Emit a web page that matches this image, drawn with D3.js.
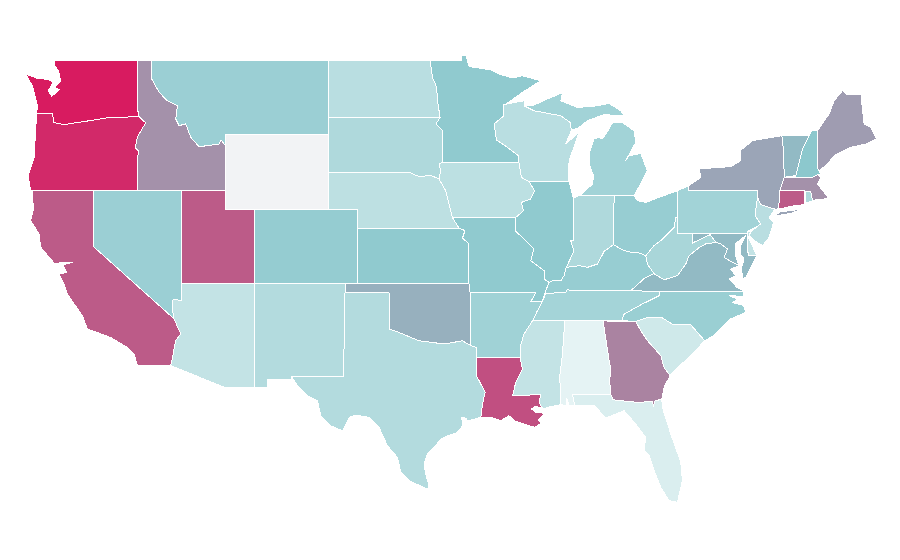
<!DOCTYPE html>
<html>
<head>
<meta charset="utf-8">
<script src="https://cdn.jsdelivr.net/npm/d3@7"></script>
<style>
  html, body { margin: 0; padding: 0; background: #fff; }
  .state { stroke: #fff; stroke-width: 1; stroke-linejoin: round; shape-rendering: crispEdges; }
</style>
</head>
<body>
<div id="map"></div>
<script>
// value per state
const stateNames = ['WA','OR','CA','ID','NV','MT','WY','UT','AZ','CO','NM','ND','SD','NE','KS','OK','TX','MN','IA','MO','AR','LA','WI','IL','MI','IN','OH','KY','TN','MS','AL','GA','FL','SC','NC','VA','WV','MD','DE','PA','NJ','NY','CT','RI','MA','VT','NH','ME'];
const stateValues = [100,96,81.5,66,42.6,42.6,0,81.5,23,45.6,31,28,33,26,48,57,31,48,26.5,48,40,85,28,48,39,33,44.6,44.6,38,23,6.4,70,12,17,43,54,36,54,23,39,28,60,81.5,33,66,54,50,62.7];

// colour ramp stops
const colorStops = [0, 6.4, 23, 50, 100];
const colorRange = ['#f2f3f5', '#e5f3f4', '#c3e3e5', '#8cc8cd', '#d81b60'];

// outlines, [lon, lat]
const WA = [[[-122.63,49],[-117.03,49],[-117.03,46.42],[-116.92,45.98],[-118.96,45.94],[-119.98,45.8],[-121.1,45.67],[-122.02,45.55],[-122.7,45.67],[-122.8,46.13],[-123.82,46.13],[-123.87,46.21],[-123.82,46.57],[-124.17,47.65],[-124.62,48.28],[-123.82,48.05],[-123.03,47.98],[-122.76,47.83],[-123.08,47.38],[-122.86,47.08],[-122.31,47.44],[-122.63,47.56],[-122.24,47.92],[-122.4,48.46],[-122.63,48.73]]];
const OR = [[[-123.87,46.21],[-123.82,46.13],[-122.8,46.13],[-122.7,45.67],[-122.02,45.55],[-121.1,45.67],[-119.98,45.8],[-118.96,45.94],[-116.92,45.98],[-116.47,45.65],[-117.03,44.9],[-117.17,44.3],[-116.93,44.1],[-117.03,43.83],[-117.03,42],[-124.28,42],[-124.46,42.8],[-124.05,43.79]]];
const CA = [[[-124.17,42],[-120,42],[-120,38.97],[-114.55,35.09],[-114.09,34.27],[-114.43,33.91],[-114.65,33],[-114.77,32.56],[-117.03,32.56],[-117.26,33.19],[-117.71,33.54],[-118.85,34.08],[-120.43,34.54],[-120.77,35.25],[-121.79,36.42],[-122.02,36.96],[-122.36,37.52],[-121.84,37.57],[-122.11,38],[-121.45,38.13],[-122.25,38.11],[-122.65,38.05],[-123.6,38.94],[-123.72,39.67],[-124.28,40.37],[-124.1,41]]];
const ID = [[[-117.03,49],[-116.05,49],[-116.05,48],[-115.56,47.3],[-115,46.84],[-114.31,46.57],[-114.43,45.86],[-114.2,45.5],[-113.75,45.59],[-113.41,44.87],[-112.84,44.36],[-111.49,44.51],[-111.33,44.72],[-111.05,44.42],[-111.05,42],[-117.03,42],[-117.03,43.83],[-116.93,44.1],[-117.17,44.3],[-117.03,44.9],[-116.47,45.65],[-116.92,45.98],[-117.03,46.42]]];
const NV = [[[-120,42],[-114.04,42],[-114.05,36.06],[-114.61,36.15],[-114.66,35.63],[-114.55,35.09],[-120,38.97]]];
const MT = [[[-116.05,49],[-104.05,49],[-104.05,45],[-111.05,45],[-111.05,44.42],[-111.33,44.72],[-111.49,44.51],[-112.84,44.36],[-113.41,44.87],[-113.75,45.59],[-114.2,45.5],[-114.43,45.86],[-114.31,46.57],[-115,46.84],[-115.56,47.3],[-116.05,48]]];
const WY = [[[-111.05,45],[-104.05,45],[-104.05,41],[-111.05,41]]];
const UT = [[[-114.04,42],[-111.05,42],[-111.05,41],[-109.05,41],[-109.05,37],[-114.05,37]]];
const AZ = [[[-114.05,37],[-109.05,37],[-109.05,31.38],[-111.07,31.38],[-114.77,32.56],[-114.65,33],[-114.43,33.91],[-114.09,34.27],[-114.55,35.09],[-114.66,35.63],[-114.61,36.15],[-114.05,36.06]]];
const CO = [[[-109.05,41],[-102.05,41],[-102.05,37],[-109.05,37]]];
const NM = [[[-109.05,37],[-102.93,37],[-102.93,36.48],[-103.03,32],[-106.57,32],[-106.57,31.8],[-108.2,31.8],[-108.2,31.38],[-109.05,31.38]]];
const ND = [[[-104.05,49],[-97.15,49],[-96.99,48.1],[-96.7,47.56],[-96.65,46.84],[-96.47,45.94],[-104.05,45.94]]];
const SD = [[[-104.05,45.94],[-96.47,45.94],[-96.75,45.59],[-96.34,45.28],[-96.34,43.5],[-96.54,43.43],[-96.43,43.07],[-96.54,42.62],[-97.1,42.82],[-97.9,42.75],[-98.47,42.95],[-104.05,42.95]]];
const NE = [[[-104.05,42.95],[-98.47,42.95],[-97.9,42.75],[-97.1,42.82],[-96.54,42.62],[-96.09,41.99],[-95.8,41.09],[-95.64,40.55],[-95.19,39.98],[-102.05,39.98],[-102.05,41],[-104.05,41]]];
const KS = [[[-102.05,39.98],[-95.19,39.98],[-94.78,39.84],[-94.95,39.44],[-94.51,39.12],[-94.51,37],[-102.05,37]]];
const OK = [[[-102.93,37],[-94.51,37],[-94.43,36.48],[-94.39,33.64],[-94.95,33.9],[-96.2,33.73],[-97.9,33.9],[-99.26,34.35],[-99.94,34.54],[-99.94,36.48],[-102.93,36.48]]];
const TX = [[[-102.93,36.48],[-99.94,36.48],[-99.94,34.54],[-99.26,34.35],[-97.9,33.9],[-96.2,33.73],[-94.95,33.9],[-94.39,33.64],[-94,33.54],[-94,33],[-94,32.02],[-93.41,31.12],[-93.59,30.49],[-93.7,29.77],[-94.6,29.59],[-94.7,29.72],[-95,29.77],[-94.95,29.32],[-95.3,28.96],[-95.97,28.78],[-96.43,28.6],[-96.88,28.15],[-97.33,27.8],[-97.56,27.26],[-97.45,26.72],[-97.22,26.09],[-97.33,25.91],[-98.58,26.36],[-99.14,26.8],[-99.37,27.62],[-100.05,28.24],[-100.62,29.23],[-101.3,29.77],[-102.2,29.9],[-102.65,29.77],[-103.1,29.05],[-103.9,29.32],[-104.58,29.86],[-104.8,30.67],[-105.48,30.94],[-106.16,31.48],[-106.57,31.98],[-103.03,32]]];
const MN = [[[-97.15,49],[-95,49],[-95,49.3],[-94.73,49.3],[-94.5,48.69],[-93.03,48.5],[-92.35,48.25],[-91.55,48.07],[-90.88,48.19],[-89.63,47.92],[-90.88,47.29],[-92,46.66],[-92.19,46.63],[-92.19,46],[-92.8,45.59],[-92.64,44.72],[-91.9,44.33],[-91.15,43.88],[-91.11,43.49],[-96.34,43.5],[-96.34,45.28],[-96.75,45.59],[-96.47,45.94],[-96.65,46.84],[-96.7,47.56],[-96.99,48.1]]];
const IA = [[[-96.34,43.5],[-91.11,43.49],[-90.95,42.71],[-90.43,42.48],[-90.05,41.99],[-90.32,41.54],[-90.95,41.36],[-90.81,40.91],[-91.33,40.55],[-95.64,40.55],[-95.8,41.09],[-96.09,41.99],[-96.54,42.62],[-96.43,43.07],[-96.54,43.43]]];
const MO = [[[-95.64,40.55],[-91.33,40.55],[-91.38,39.84],[-90.65,39.3],[-90.1,38.85],[-90.31,38.22],[-89.41,37.68],[-89.41,37.23],[-89.07,37.05],[-89.3,36.6],[-89.52,36.02],[-90.31,36.02],[-89.97,36.48],[-94.43,36.48],[-94.51,37],[-94.51,39.12],[-94.95,39.44],[-94.78,39.84],[-95.19,39.98]]];
const AR = [[[-94.43,36.48],[-89.97,36.48],[-90.31,36.02],[-89.52,36.02],[-89.86,35.52],[-90.2,34.97],[-90.77,34.27],[-91.04,33.54],[-91.04,33],[-94,33],[-94,33.54],[-94.39,33.64]]];
const LA = [[[-94,33],[-91.04,33],[-90.88,32.38],[-91.33,31.66],[-91.55,30.94],[-89.63,31],[-89.74,30.58],[-89.5,30.23],[-89.97,30.38],[-90.26,30.22],[-89.97,30.04],[-89.36,29.99],[-89.82,29.63],[-89,29.1],[-89.52,29.5],[-90.04,29.23],[-90.77,29.42],[-91.45,29.6],[-91.79,29.86],[-92.35,29.6],[-93.03,29.77],[-93.7,29.77],[-93.59,30.49],[-93.41,31.12],[-94,32.02]]];
const WI = [[[-92,46.66],[-90.77,46.84],[-90.77,46.57],[-90.09,46.3],[-88.27,46.03],[-87.64,45.67],[-87.55,45.25],[-87.93,44.53],[-87.03,45.13],[-87.46,44.15],[-87.64,43.79],[-87.78,43.25],[-87.71,42.48],[-90.43,42.48],[-90.95,42.71],[-91.11,43.49],[-91.15,43.88],[-91.9,44.33],[-92.64,44.72],[-92.8,45.59],[-92.19,46],[-92.19,46.63]]];
const IL = [[[-90.43,42.48],[-87.71,42.48],[-87.43,41.6],[-87.42,39.3],[-87.6,39.3],[-87.37,38.75],[-87.9,37.86],[-88.05,37.41],[-88.27,37.14],[-88.84,37.14],[-89.07,37.05],[-89.41,37.23],[-89.41,37.68],[-90.31,38.22],[-90.1,38.85],[-90.65,39.3],[-91.38,39.84],[-91.33,40.55],[-90.81,40.91],[-90.95,41.36],[-90.32,41.54],[-90.05,41.99]]];
const MI = [
  [[-90.77,46.57],[-90.2,46.57],[-89.18,46.94],[-88.39,47.2],[-87.64,47.38],[-88.16,47.24],[-88.27,46.84],[-87.14,46.48],[-85.78,46.57],[-85,46.7],[-84.2,46.3],[-83.97,46.03],[-85.33,46.09],[-86.46,45.77],[-87.03,45.4],[-87.55,45.25],[-87.64,45.67],[-88.27,46.03],[-90.09,46.3]],
  [[-86.95,41.75],[-86.12,42.35],[-86.05,42.8],[-86.35,43.43],[-86.35,43.97],[-86.01,44.78],[-85.67,44.87],[-85.44,44.78],[-85,45.32],[-84.76,45.67],[-84.09,45.66],[-83.3,45.23],[-83.18,44.6],[-83.86,43.61],[-83.64,43.88],[-82.84,44],[-82.39,43.07],[-82.73,42.53],[-83.3,41.72],[-84.65,41.75]]
];
const IN = [[[-87.43,41.6],[-86.95,41.75],[-84.65,41.75],[-84.7,39.08],[-85.33,38.72],[-85.78,38.04],[-86.46,37.86],[-87.03,37.95],[-87.9,37.86],[-87.37,38.75],[-87.6,39.3],[-87.42,39.3]]];
const OH = [[[-80.35,41.99],[-81.71,41.6],[-82.5,41.36],[-83.06,41.45],[-83.3,41.72],[-84.65,41.75],[-84.7,39.08],[-84.08,38.8],[-83.52,38.67],[-83.06,38.67],[-82.5,38.49],[-81.94,39.03],[-81.48,39.3],[-80.58,40.01],[-80.46,40.55],[-80.35,40.55]]];
const KY = [[[-83.52,36.6],[-82.62,37.25],[-81.94,37.52],[-82.39,38.04],[-82.5,38.49],[-83.06,38.67],[-83.52,38.67],[-84.08,38.8],[-84.7,39.08],[-85.33,38.72],[-85.78,38.04],[-86.46,37.86],[-87.03,37.95],[-87.9,37.86],[-88.05,37.41],[-88.27,37.14],[-88.84,37.14],[-89.07,37.05],[-89.3,36.6],[-89.3,36.46],[-87.93,36.5],[-87.87,36.64]]];
const TN = [[[-89.3,36.46],[-87.93,36.5],[-87.87,36.64],[-83.52,36.6],[-81.6,36.56],[-81.6,36.33],[-82.74,35.88],[-83.97,35.34],[-84.13,34.98],[-85.4,34.97],[-88,34.97],[-90.2,34.97],[-89.86,35.52],[-89.52,36.02]]];
const MS = [[[-90.2,34.97],[-88,34.97],[-88.16,33.19],[-88.34,32.02],[-88.28,30.46],[-88.96,30.35],[-89.5,30.23],[-89.74,30.58],[-89.63,31],[-91.55,30.94],[-91.33,31.66],[-90.88,32.38],[-91.04,33],[-91.04,33.54],[-90.77,34.27]]];
const AL = [[[-88,34.97],[-85.4,34.97],[-84.99,32.83],[-84.88,32.38],[-84.95,31.75],[-84.88,31],[-87.48,31],[-87.37,30.58],[-87.37,30.4],[-87.71,30.4],[-87.86,30.78],[-87.93,30.4],[-88.28,30.46],[-88.34,32.02],[-88.16,33.19]]];
const GA = [[[-85.4,34.97],[-83.18,34.95],[-82.84,34.44],[-82.39,33.91],[-81.48,33.1],[-81.26,32.47],[-80.85,32.02],[-81.26,31.39],[-81.41,30.76],[-81.89,30.65],[-81.98,30.38],[-82.05,30.63],[-83.07,30.58],[-84.72,30.72],[-84.88,31],[-84.95,31.75],[-84.88,32.38],[-84.99,32.83]]];
const FL = [[[-84.88,31],[-84.72,30.72],[-83.07,30.58],[-82.05,30.63],[-81.98,30.38],[-81.89,30.65],[-81.41,30.76],[-81.37,30.31],[-80.8,28.87],[-80.12,27.35],[-80.01,26.36],[-80.35,25.19],[-80.92,25.28],[-81.48,26],[-81.93,26.9],[-82.27,27.7],[-82.62,27.98],[-82.5,28.69],[-83.18,29.41],[-83.97,30.13],[-85.2,29.74],[-86,30.4],[-87.37,30.4],[-87.37,30.58],[-87.48,31]]];
const SC = [[[-83.18,34.95],[-82.39,35.16],[-81.37,35.13],[-80.69,34.8],[-79.49,34.8],[-78.5,33.91],[-79.22,33.28],[-80.35,32.44],[-80.85,32.02],[-81.26,32.47],[-81.48,33.1],[-82.39,33.91],[-82.84,34.44]]];
const NC = [[[-81.6,36.56],[-75.86,36.56],[-75.86,36.3],[-76.84,36.33],[-76.27,36.15],[-76.61,35.96],[-75.93,35.83],[-75.82,35.7],[-75.7,35.43],[-76.73,35.08],[-77.86,34.18],[-78.5,33.91],[-79.49,34.8],[-80.69,34.8],[-81.37,35.13],[-82.39,35.16],[-83.18,34.95],[-84.13,34.98],[-83.97,35.34],[-82.74,35.88],[-81.6,36.33]]];
const VA = [[[-83.52,36.6],[-82.62,37.25],[-81.94,37.52],[-81.26,37.19],[-80.35,37.41],[-79.78,38.04],[-79.56,38.49],[-78.88,38.92],[-78.42,39.13],[-77.74,39.2],[-77.4,39.12],[-76.95,38.85],[-77.18,38.4],[-76.61,38.13],[-76.16,37.95],[-76.73,37.77],[-76.39,37.41],[-76.84,37.23],[-76.27,36.75],[-75.82,36.6],[-75.86,36.56],[-81.6,36.56]]];
const WV = [[[-80.35,39.71],[-79.33,39.71],[-79.33,39.17],[-78.76,39.39],[-78.13,39.62],[-77.74,39.2],[-78.42,39.13],[-78.88,38.92],[-79.56,38.49],[-79.78,38.04],[-80.35,37.41],[-81.26,37.19],[-81.94,37.52],[-82.39,38.04],[-82.5,38.49],[-81.94,39.03],[-81.48,39.3],[-80.58,40.01],[-80.46,40.55],[-80.35,40.55]]];
const MD = [[[-79.33,39.71],[-75.59,39.71],[-75.55,38.49],[-74.96,38.49],[-75.03,38.4],[-75.71,37.32],[-75.93,37.23],[-76,37.86],[-75.82,38.31],[-76.09,38.58],[-76.05,39.03],[-75.71,39.57],[-76.44,39.12],[-76.39,38.49],[-76.16,37.95],[-76.61,38.13],[-77.18,38.4],[-76.95,38.85],[-77.4,39.12],[-77.74,39.2],[-78.13,39.62],[-78.76,39.39],[-79.33,39.17]]];
const DE = [[[-75.59,39.8],[-75.36,39.8],[-75.53,39.48],[-74.96,38.49],[-75.55,38.49]]];
const PA = [[[-80.35,41.99],[-79.6,42.26],[-79.6,41.99],[-74.91,41.99],[-74.91,41.63],[-74.69,41.24],[-75.08,40.65],[-74.69,40.2],[-75.03,40.02],[-75.59,39.8],[-75.59,39.71],[-80.35,39.71]]];
const NJ = [[[-74.91,41.63],[-74.69,41.24],[-73.74,41],[-74.12,40.55],[-73.82,40.28],[-74.12,39.47],[-74.57,39.03],[-75.14,39.3],[-75.48,39.57],[-75.36,39.8],[-74.69,40.2],[-75.08,40.65]]];
const NY = [
  [[-79.6,42.26],[-78.76,42.71],[-78.88,43.16],[-77.52,43.25],[-76.73,43.29],[-76.05,43.61],[-76.09,44.15],[-75.25,44.69],[-73.26,44.96],[-73.16,44.26],[-73.09,42.71],[-73.4,41.99],[-73.47,41.08],[-73.67,40.97],[-73.74,41],[-74.69,41.24],[-74.91,41.63],[-74.91,41.99],[-79.6,41.99]],
  [[-73.89,40.61],[-73.33,40.86],[-71.85,41],[-72.65,40.77]]
];
const CT = [[[-73.4,41.99],[-71.7,41.99],[-71.7,41.24],[-72.43,41.18],[-73.47,41],[-73.58,40.97],[-73.47,41.08]]];
const RI = [[[-71.63,41.95],[-71.29,41.95],[-71.18,41.45],[-71.63,41.32]]];
const MA = [[[-73.4,41.99],[-73.09,42.72],[-72.31,42.72],[-71.18,42.72],[-70.84,42.85],[-70.61,42.72],[-70.84,42.36],[-70.39,41.9],[-70.05,41.63],[-70.39,41.54],[-70.84,41.54],[-71.18,41.45],[-71.29,41.95],[-71.63,41.95],[-71.7,41.99]]];
const VT = [[[-73.26,44.96],[-71.41,44.96],[-71.85,44.24],[-72.31,42.8],[-73.09,42.72],[-73.16,44.26]]];
const NH = [[[-71.41,44.96],[-71.24,45.23],[-70.95,45.23],[-70.84,45.23],[-70.84,43.22],[-70.61,42.89],[-70.84,42.85],[-71.18,42.72],[-72.31,42.72],[-72.31,42.8],[-71.85,44.24]]];
const ME = [[[-70.84,45.23],[-70.05,46.13],[-69.71,46.84],[-69.14,47.38],[-68.9,47.2],[-67.89,47.2],[-67.67,45.59],[-67.21,45.4],[-66.81,44.78],[-67.55,44.51],[-68.57,44.33],[-69.71,43.88],[-70.16,43.43],[-70.73,43.07],[-70.84,43.22]]];

const stateShapes = { WA, OR, CA, ID, NV, MT, WY, UT, AZ, CO, NM, ND, SD, NE, KS, OK, TX, MN, IA, MO, AR, LA, WI, IL, MI, IN, OH, KY, TN, MS, AL, GA, FL, SC, NC, VA, WV, MD, DE, PA, NJ, NY, CT, RI, MA, VT, NH, ME };

const width = 900, height = 560;

const x = d3.scaleLinear().domain([-120, -102]).range([93.7, 358.7]);
const y = d3.scaleLinear().domain([49, 37]).range([60.7, 283.3]);
const color = d3.scaleLinear().domain(colorStops).range(colorRange);

const path = d3.geoPath(d3.geoTransform({
  point(lon, lat) { this.stream.point(x(lon), y(lat)); }
}));

const features = stateNames.map((name, i) => ({
  type: 'Feature',
  id: name,
  properties: { value: stateValues[i] },
  geometry: { type: 'MultiPolygon', coordinates: stateShapes[name].map(ring => [ring.concat([ring[0]])]) }
}));

const svg = d3.select('#map').append('svg')
  .attr('width', width)
  .attr('height', height)
  .style('display', 'block');

svg.selectAll('path.state')
  .data(features)
  .join('path')
  .attr('class', 'state')
  .attr('d', path)
  .attr('fill', d => color(d.properties.value));
</script>
</body>
</html>
